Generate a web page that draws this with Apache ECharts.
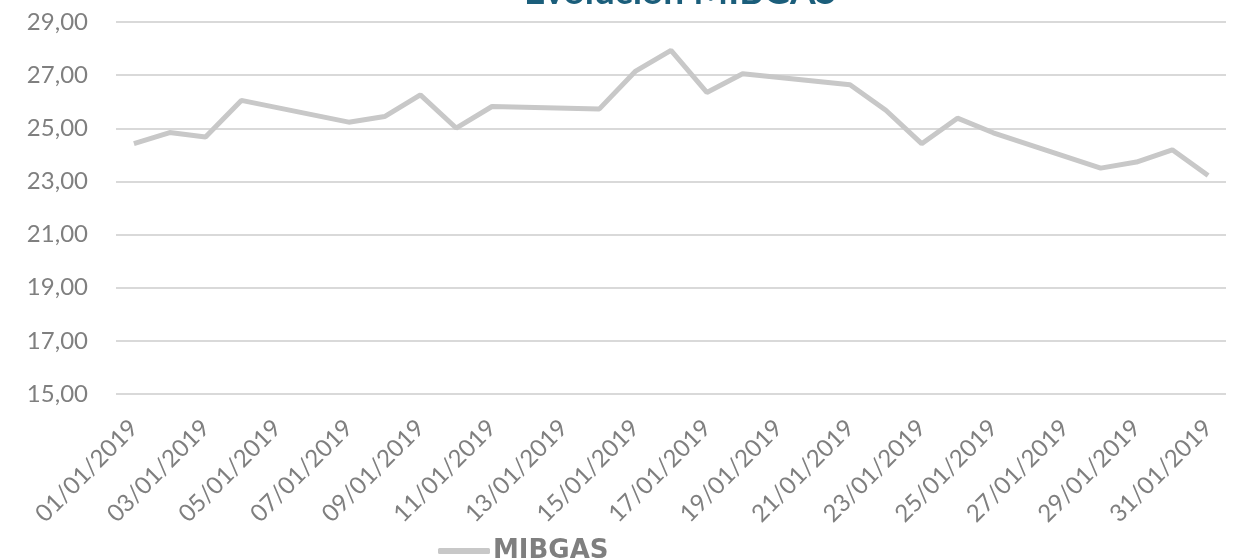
<!DOCTYPE html>
<html lang="es">
<head>
    <meta charset="UTF-8" />
    <title>Evolución MIBGAS</title>
    <style>
        body { margin: 0; padding: 0; background: #fff; }
        .chart { width: 1239px; height: 558px; }
    </style>
</head>
<body>
<div class="chart"></div>
<script src="https://cdn.jsdelivr.net/npm/echarts@6/dist/echarts.min.js"></script>
<script>
    // fechas de enero 2019
    const dias = [];
    for (let d = 1; d <= 31; d++) {
        dias.push((d < 10 ? '0' + d : '' + d) + '/01/2019');
    }
    // precios MIBGAS (null = fin de semana, sin dato)
    const precios = [
        24.42, 24.84, 24.67, 26.05, null, null, 25.23,
        25.44, 26.26, 25.01, 25.82, null, null, 25.73,
        27.14, 27.93, 26.35, 27.05, null, null, 26.64,
        25.68, 24.42, 25.38, 24.83, null, null, 23.50,
        23.73, 24.19, 23.22
    ];
    const yMin = 15, yMax = 29, yPaso = 2;

    const gris = '#7f7f7f';
    const fuente = 'Lato';

    const chart = echarts.init(document.querySelector('.chart'));
    chart.setOption({
        animation: false,
        title: {
            text: 'Evolución MIBGAS',
            left: 675,
            textAlign: 'center',
            top: -31,
            textStyle: { color: '#1b5e7b', fontSize: 37, fontWeight: 'bold', fontFamily: fuente }
        },
        legend: {
            data: ['MIBGAS'],
            left: 433,
            top: 533,
            icon: 'roundRect',
            itemWidth: 52,
            itemHeight: 6,
            itemGap: 4,
            textStyle: { color: gris, fontSize: 26, fontWeight: 'bold', fontFamily: 'DejaVu Sans', padding: [0, 0, 0, -2] }
        },
        grid: { left: 116, right: 13, top: 22, bottom: 164, containLabel: false },
        xAxis: {
            type: 'category',
            data: dias,
            boundaryGap: true,
            axisLine: { show: false },
            axisTick: { show: false },
            axisLabel: {
                interval: 1,
                rotate: 45,
                margin: 30,
                color: gris,
                fontSize: 24,
                fontFamily: fuente
            }
        },
        yAxis: {
            type: 'value',
            min: yMin,
            max: yMax,
            interval: yPaso,
            axisLine: { show: false },
            axisTick: { show: false },
            splitLine: { lineStyle: { color: '#d9d9d9', width: 2 } },
            axisLabel: {
                margin: 28,
                color: gris,
                fontSize: 24,
                fontFamily: fuente,
                formatter: v => v.toFixed(2).replace('.', ',')
            }
        },
        series: [{
            name: 'MIBGAS',
            type: 'line',
            data: precios,
            connectNulls: true,
            symbol: 'none',
            lineStyle: { color: '#c8c8c8', width: 5 },
            itemStyle: { color: '#c8c8c8' }
        }]
    });
</script>
</body>
</html>
